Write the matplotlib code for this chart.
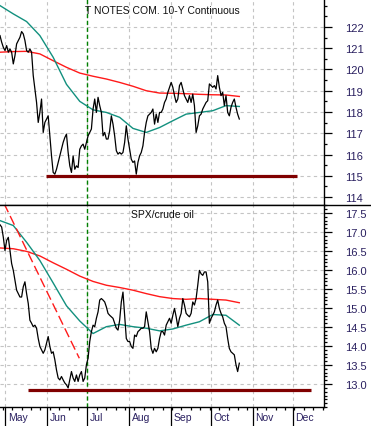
import numpy as np
import pandas as pd
import matplotlib
matplotlib.use("Agg")
import matplotlib.pyplot as plt
import matplotlib.dates as mdates
import matplotlib.transforms as mtransforms
from matplotlib.ticker import MultipleLocator, FixedLocator, FormatStrFormatter
from matplotlib.lines import Line2D

plt.rcParams["font.family"] = ["Liberation Sans", "DejaVu Sans"]

# ---- data ----
START, END = "2013-04-27", "2013-10-22"
XLIM = ("2013-04-27", "2013-12-24")

tnote = [
    121.59, 121.28, 121.04, 120.89, 121.12, 120.81, 120.96, 120.81, 120.26, 120.65,
    121.20, 121.36, 121.51, 121.78, 121.67, 121.36, 120.89, 120.81, 120.96, 120.81,
    119.71, 119.08, 118.45, 117.51, 117.98, 118.61, 117.04, 117.51, 117.67, 117.82,
    116.88, 115.94, 115.16, 115.08, 115.31, 115.63, 115.94, 116.25, 116.57, 116.80,
    116.96, 116.10, 115.47, 115.16, 115.94, 115.31, 115.47, 115.39, 116.25, 116.41,
    116.49, 116.25, 116.57, 116.88, 117.04, 117.20, 118.14, 118.61, 117.98, 118.69,
    118.30, 117.98, 116.88, 117.04, 116.73, 116.73, 117.12, 117.82, 117.43, 116.88,
    116.18, 116.02, 116.10, 116.02, 116.10, 116.57, 117.35, 116.73, 116.25, 115.78,
    115.63, 115.70, 115.08, 115.63, 115.94, 116.10, 116.41, 117.04, 117.51, 117.82,
    117.90, 117.98, 118.14, 117.43, 117.90, 117.51, 117.98, 117.98, 118.14, 118.45,
    118.61, 118.92, 119.16, 119.39, 119.16, 118.77, 118.45, 118.61, 119.24, 119.39,
    119.08, 118.77, 118.61, 118.45, 118.77, 118.45, 118.84, 118.30, 117.04, 117.35,
    117.82, 117.90, 118.14, 118.30, 118.45, 118.53, 119.32, 119.24, 119.16, 119.24,
    119.08, 119.71, 119.16, 118.77, 118.92, 118.30, 118.77, 117.98, 117.82, 118.22,
    118.45, 118.61, 118.22, 117.90, 117.67,
]
tnote_slow = [120.81, 120.84, 120.85, 120.73, 120.41, 120.10, 119.83, 119.68, 119.55, 119.39,
              119.21, 119.00, 118.89, 118.88, 118.86, 118.83, 118.81, 118.80, 118.73]
tnote_fast = [123.00, 122.61, 122.25, 121.59, 120.57, 119.30, 118.50, 118.10, 117.98, 117.75,
              117.23, 117.04, 117.27, 117.59, 117.90, 117.98, 118.06, 118.30, 118.26]

spx_oil = [
    17.19, 17.13, 16.86, 16.51, 16.78, 16.86, 16.51, 16.17, 15.99, 15.73,
    15.47, 15.38, 15.29, 15.29, 15.56, 15.69, 15.38, 15.12, 14.68, 14.60,
    14.51, 14.55, 14.47, 14.20, 13.99, 13.90, 13.81, 13.90, 14.07, 14.25,
    13.99, 13.81, 13.85, 13.64, 13.37, 13.16, 13.11, 13.20, 13.11, 13.03,
    12.98, 12.90, 13.11, 13.33, 13.16, 13.07, 13.24, 13.07, 13.24, 13.33,
    13.07, 13.16, 13.51, 13.68, 14.12, 14.38, 14.55, 14.51, 14.73, 14.90,
    15.21, 15.25, 15.21, 15.16, 15.03, 14.86, 14.81, 14.77, 14.73, 14.60,
    14.47, 14.42, 14.68, 15.16, 15.42, 14.81, 14.20, 14.12, 14.12, 13.99,
    13.94, 14.29, 14.25, 14.38, 14.42, 14.47, 14.47, 14.51, 14.90, 14.64,
    14.38, 13.94, 13.81, 13.94, 13.85, 13.94, 14.20, 14.38, 14.38, 14.29,
    14.55, 14.64, 14.73, 14.60, 14.81, 14.99, 14.77, 14.51, 14.73, 14.86,
    15.25, 15.08, 14.86, 14.81, 14.77, 14.86, 15.16, 15.08, 15.25, 15.60,
    15.99, 15.90, 15.86, 15.95, 15.95, 15.69, 14.60, 14.73, 14.81, 14.90,
    15.08, 15.21, 14.99, 14.86, 14.77, 14.60, 14.51, 14.20, 13.94, 13.85,
    13.81, 13.77, 13.51, 13.33, 13.55,
]
spx_slow = [16.58, 16.56, 16.49, 16.37, 16.19, 16.02, 15.84, 15.70, 15.60, 15.54,
            15.47, 15.38, 15.30, 15.25, 15.23, 15.25, 15.23, 15.21, 15.14]
spx_fast = [17.30, 17.17, 16.73, 16.25, 15.66, 15.06, 14.66, 14.33, 14.51, 14.57,
            14.51, 14.47, 14.40, 14.45, 14.55, 14.64, 14.83, 14.81, 14.55]

trend_dates = ["2013-04-30", "2013-06-25"]
trend_vals = [17.75, 13.68]
tnote_support, tnote_support_span = 115.0, ("2013-05-31", "2013-12-04")
spx_support, spx_support_span = 12.84, ("2013-05-18", "2013-12-14")
marker_date = "2013-07-01"
titles = ["T NOTES COM. 10-Y Continuous", "SPX/crude oil"]
tnote_ticks = [114, 115, 116, 117, 118, 119, 120, 121, 122]
spx_ticks = [13.0, 13.5, 14.0, 14.5, 15.0, 15.5, 16.0, 16.5, 17.0, 17.5]

# ---- styling ----
BLACK = "#000000"
RED = "#ff1a1a"
TEAL = "#12907e"
SUPPORT = "#800000"
LABEL = "#2a2060"
GRID = dict(color="#c4c4c4", linestyle=(0, (3, 3)), linewidth=0.8)

W, H, DPI = 371, 427, 100
fig = plt.figure(figsize=(W / DPI, H / DPI), dpi=DPI)
split, bottom = 206, 408.3
ax1 = fig.add_axes([0, 1 - split / H, 324 / W, split / H])
ax2 = fig.add_axes([0, 1 - bottom / H, 324 / W, (bottom - split) / H], sharex=ax1)

d_line = pd.date_range(START, END, periods=len(tnote))
d_ma = pd.date_range(START, END, periods=len(tnote_slow))

panels = [
    (ax1, tnote, tnote_slow, tnote_fast, tnote_support, tnote_support_span,
     (113.63, 123.31), tnote_ticks, 6),
    (ax2, spx_oil, spx_slow, spx_fast, spx_support, spx_support_span,
     (12.39, 17.71), spx_ticks, 4),
]
for i, (ax, vals, slow, fast, sup, span, ylim, ticks, tpad) in enumerate(panels):
    ax.grid(True, which="major", **GRID)
    ax.set_axisbelow(True)
    ax.axvline(pd.Timestamp(marker_date), color="#008000", lw=1.0, linestyle=(0, (3, 2)))
    ax.plot(d_ma, slow, color=RED, lw=1.0)
    ax.plot(d_ma, fast, color=TEAL, lw=1.0)
    ax.plot(d_line, vals, color=BLACK, lw=0.9)
    ax.hlines(sup, pd.Timestamp(span[0]), pd.Timestamp(span[1]), color=SUPPORT, lw=2.3)
    ax.set_ylim(*ylim)
    off = mtransforms.ScaledTranslation(0, -tpad / DPI, fig.dpi_scale_trans)
    ax.text(0.5, 1.0, titles[i], transform=ax.transAxes + off,
            ha="center", va="top", fontsize=7.5, color="#111111")
    for s in ("left", "top"):
        ax.spines[s].set_visible(False)
    ax.spines["right"].set_linewidth(1.0)
    ax.spines["bottom"].set_linewidth(1.0)
    ax.yaxis.tick_right()
    ax.yaxis.set_major_locator(FixedLocator(ticks))
    ax.tick_params(axis="y", which="major", length=5.5, width=0.9, direction="out",
                   pad=9.6, labelsize=8, labelcolor=LABEL)
    ax.tick_params(axis="y", which="minor", length=2.5, width=0.9, direction="out")

ax2.plot(pd.to_datetime(trend_dates), trend_vals, color=RED, lw=1.0, linestyle=(0, (7, 3)))

ax1.yaxis.set_minor_locator(MultipleLocator(0.5))
ax1.yaxis.set_major_formatter(FormatStrFormatter("%d"))
ax2.yaxis.set_minor_locator(MultipleLocator(0.1))
ax2.yaxis.set_major_formatter(FormatStrFormatter("%.1f"))

ax2.set_xlim(pd.Timestamp(XLIM[0]), pd.Timestamp(XLIM[1]))
ax2.xaxis.set_major_locator(mdates.MonthLocator())
ax2.xaxis.set_minor_locator(mdates.WeekdayLocator(byweekday=mdates.MO))
ax2.xaxis.set_major_formatter(mdates.DateFormatter("%b"))
ax1.tick_params(axis="x", which="both", length=0, labelbottom=False)
ax2.tick_params(axis="x", which="major", length=13.7, width=0.9, direction="out",
                pad=-10.2, labelsize=7.5, labelcolor=LABEL)
ax2.tick_params(axis="x", which="minor", length=2.5, width=0.9, direction="out")

shift = mtransforms.ScaledTranslation(2.5 / DPI, 0, fig.dpi_scale_trans)
for lbl in ax2.get_xticklabels():
    lbl.set_horizontalalignment("left")
    lbl.set_transform(lbl.get_transform() + shift)

# divider runs across the label column too
fig.add_artist(Line2D([0, 1], [1 - split / H] * 2, color="black", lw=1.0,
                      transform=fig.transFigure))

fig.savefig("out.png", dpi=DPI, facecolor="white")
